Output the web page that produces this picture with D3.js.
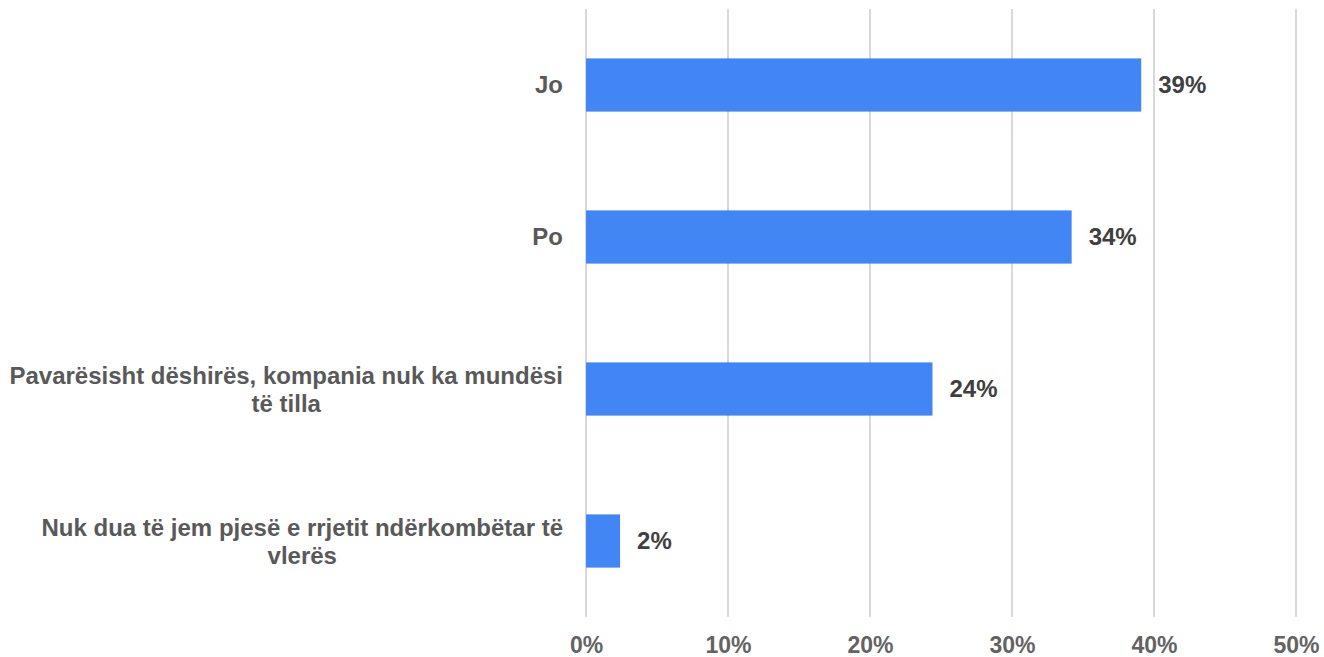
<!DOCTYPE html>
<html>
<head>
<meta charset="utf-8">
<script src="https://cdn.jsdelivr.net/npm/d3@7"></script>
<style>
  body { margin: 0; background: #fff; }
  text { font-family: "Liberation Sans", Arial, sans-serif; font-weight: bold; }
</style>
</head>
<body>
<div id="chart-area"></div>
<script>
var categories = [
  ["Jo"],
  ["Po"],
  ["Pavarësisht dëshirës, kompania nuk ka mundësi", "të tilla"],
  ["Nuk dua të jem pjesë e rrjetit ndërkombëtar të", "vlerës"]
];
var values = [39.1, 34.2, 24.4, 2.4];
var valueLabels = ["39%", "34%", "24%", "2%"];
var tickValues = [0, 10, 20, 30, 40, 50];

var width = 1324, height = 657;
var margin = {top: 9, right: 28, bottom: 40, left: 586};

var svg = d3.select("#chart-area").append("svg")
  .attr("width", width)
  .attr("height", height);

var x = d3.scaleLinear()
  .domain([0, 50])
  .range([margin.left, width - margin.right]);

var y = d3.scaleBand()
  .domain(d3.range(categories.length))
  .range([margin.top, height - margin.bottom])
  .paddingInner(0.65)
  .paddingOuter(0.325);

// gridlines
svg.append("g")
  .selectAll("line")
  .data(tickValues)
  .enter().append("line")
    .attr("x1", d => x(d)).attr("x2", d => x(d))
    .attr("y1", margin.top).attr("y2", height - margin.bottom)
    .attr("stroke", "#d9d9d9")
    .attr("stroke-width", 2);

// tick labels
var xAxis = d3.axisBottom(x).tickValues(tickValues).tickSize(0).tickFormat(d => d + "%");
var ax = svg.append("g")
  .attr("transform", "translate(0," + (height - margin.bottom) + ")")
  .call(xAxis);
ax.select(".domain").remove();
ax.selectAll("text")
  .attr("y", 20)
  .attr("dy", "0.71em")
  .attr("font-size", "23px")
  .attr("font-family", "Liberation Sans, Arial, sans-serif")
  .attr("font-weight", "bold")
  .attr("fill", "#636363");

// bars
svg.append("g")
  .selectAll("rect")
  .data(values)
  .enter().append("rect")
    .attr("x", x(0))
    .attr("y", (d, i) => y(i))
    .attr("width", d => x(d) - x(0))
    .attr("height", y.bandwidth())
    .attr("fill", "#4285f4");

// value labels
svg.append("g")
  .selectAll("text")
  .data(values)
  .enter().append("text")
    .attr("x", d => x(d) + 17)
    .attr("y", (d, i) => y(i) + y.bandwidth() / 2)
    .attr("dy", "0.35em")
    .attr("font-size", "24px")
    .attr("fill", "#404040")
    .text((d, i) => valueLabels[i]);

// category labels (right aligned block, lines centered)
var labels = svg.append("g")
  .selectAll("g")
  .data(categories)
  .enter().append("g");

labels.each(function(lines, i) {
  var g = d3.select(this);
  var lh = 28;
  var cy = y(i) + y.bandwidth() / 2 + (lines.length > 1 ? 1 : 0);
  var t = g.append("text")
    .attr("font-size", "24px")
    .attr("fill", "#595959")
    .attr("text-anchor", "middle");
  lines.forEach(function(l, j) {
    t.append("tspan")
      .attr("x", 0)
      .attr("y", cy + (j - (lines.length - 1) / 2) * lh)
      .attr("dy", "0.35em")
      .text(l);
  });
  var w = t.node().getBBox().width;
  t.attr("transform", "translate(" + (563 - w / 2) + ",0)");
});
</script>
</body>
</html>
